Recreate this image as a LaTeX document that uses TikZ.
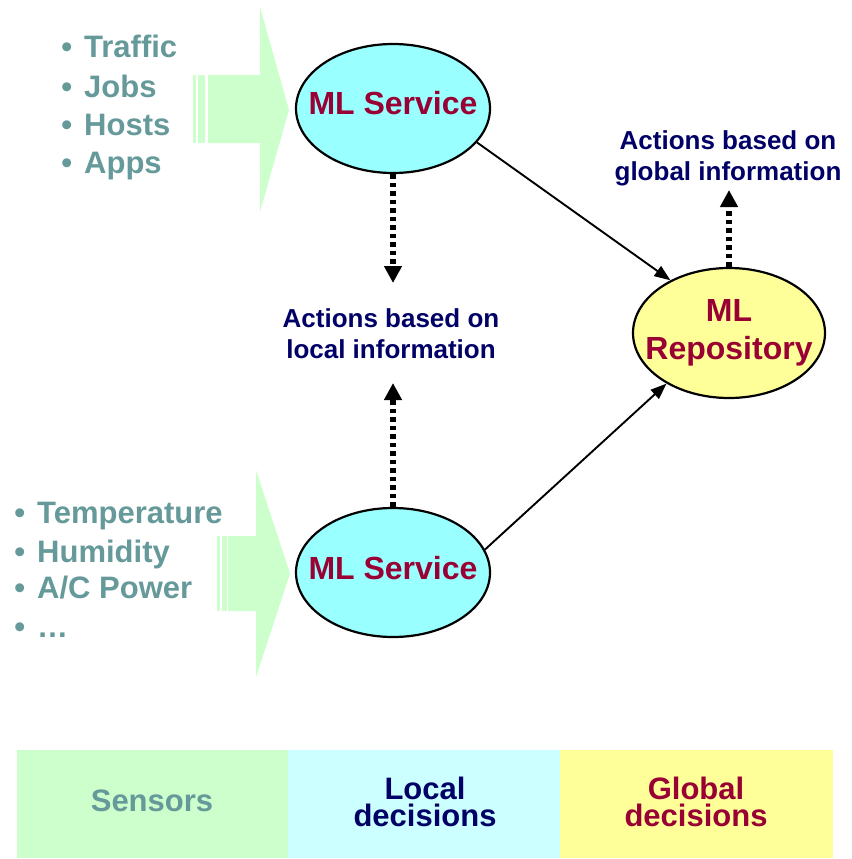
\documentclass[tikz,border=0pt]{standalone}
\usepackage{fontspec}
\setmainfont{Liberation Sans}
\usetikzlibrary{shapes.geometric,arrows.meta}
\definecolor{sgreen}{HTML}{CCFFCC}
\definecolor{ecyan}{HTML}{99FFFF}
\definecolor{bcyan}{HTML}{CCFFFF}
\definecolor{eyellow}{HTML}{FFFF99}
\definecolor{tealtxt}{HTML}{669999}
\definecolor{redtxt}{HTML}{990033}
\definecolor{navytxt}{HTML}{000066}
\begin{document}
\begin{tikzpicture}[x=1pt,y=-1pt,
  bul/.style={anchor=base west,inner sep=0pt,text=tealtxt,font=\fontsize{31}{38}\selectfont\bfseries},
  ell/.style={ellipse,draw=black,line width=2.2pt,inner sep=0pt,minimum width=194pt,minimum height=129pt},
  elltxt/.style={text=redtxt,font=\fontsize{32}{38}\selectfont\bfseries,align=center,inner sep=0pt},
  act/.style={text=navytxt,font=\fontsize{26}{31}\selectfont\bfseries,align=center,inner sep=0pt},
  dotarrow/.style={line width=6pt,dash pattern=on 4.5pt off 4pt,-{Triangle[width=17pt,length=17pt]}},
  solarrow/.style={line width=1.9pt,-{Triangle[width=12pt,length=16pt]}},
  band/.style={font=\fontsize{31}{27}\selectfont\bfseries,align=center,inner sep=0pt}
]
\useasboundingbox (0,0) rectangle (851,859);
% big input arrows
\fill[sgreen] (208,75) -- (260,75) -- (260,7) -- (289,110) -- (260,212) -- (260,143) -- (208,143) -- cycle;
\fill[sgreen] (193,75) rectangle (196,143);
\fill[sgreen] (198,75) rectangle (204.5,143);
\fill[sgreen] (228,536) -- (256,536) -- (256,470) -- (290,573.5) -- (256,677) -- (256,611) -- (228,611) -- cycle;
\fill[sgreen] (216.7,536) rectangle (220,611);
\fill[sgreen] (221.5,536) rectangle (226.5,611);
% bullet lists
\node[bul] (t1) at (84,58) {\llap{•\hspace{12pt}}Traffic};
\node[bul] (t2) at (84,97) {\llap{•\hspace{12pt}}Jobs};
\node[bul] (t3) at (84,135) {\llap{•\hspace{12pt}}Hosts};
\node[bul] (t4) at (84,173) {\llap{•\hspace{12pt}}Apps};
\node[bul] (b1) at (37,523) {\llap{•\hspace{12pt}}Temperature};
\node[bul] (b2) at (37,562) {\llap{•\hspace{12pt}}Humidity};
\node[bul] (b3) at (37,598) {\llap{•\hspace{12pt}}A/C Power};
\node[bul] (b4) at (37,637) {\llap{•\hspace{12pt}}…};
% ellipses
\node[ell,fill=ecyan] (s1) at (393,108.5) {};
\node[elltxt] (s1t) at (393,103.5) {ML Service};
\node[ell,fill=ecyan] (s2) at (393,572.5) {};
\node[elltxt] (s2t) at (393,568) {ML Service};
\node[ell,fill=eyellow,minimum width=192pt,minimum height=130pt] (repo) at (729,333) {};
\node[elltxt] (repot) at (729,333) {ML\\Repository};
% action texts
\node[act] (loc) at (391,334) {Actions based on\\local information};
\node[act] (glob) at (728,158) {Actions based on\\global information};
\coordinate (lt) at (393,283);
\coordinate (lb) at (393,383);
\coordinate (gt) at (729,190);
% connectors
\draw[dotarrow] (s1.south) -- (lt);
\draw[dotarrow] (s2.north) -- (lb);
\draw[dotarrow] (repo.north) -- (gt);
\draw[solarrow] (s1.338) -- (repo.138);
\draw[solarrow] (s2.14) -- (repo.219);
% bottom band
\fill[sgreen] (17,750) rectangle (288,858);
\fill[bcyan] (288,750) rectangle (560,858);
\fill[eyellow] (560,750) rectangle (833,858);
\node[band,text=tealtxt] (sens) at (152,801) {Sensors};
\node[band,text=navytxt] (locd) at (425,802) {Local\\decisions};
\node[band,text=redtxt] (globd) at (696,802) {Global\\decisions};
\end{tikzpicture}
\end{document}
